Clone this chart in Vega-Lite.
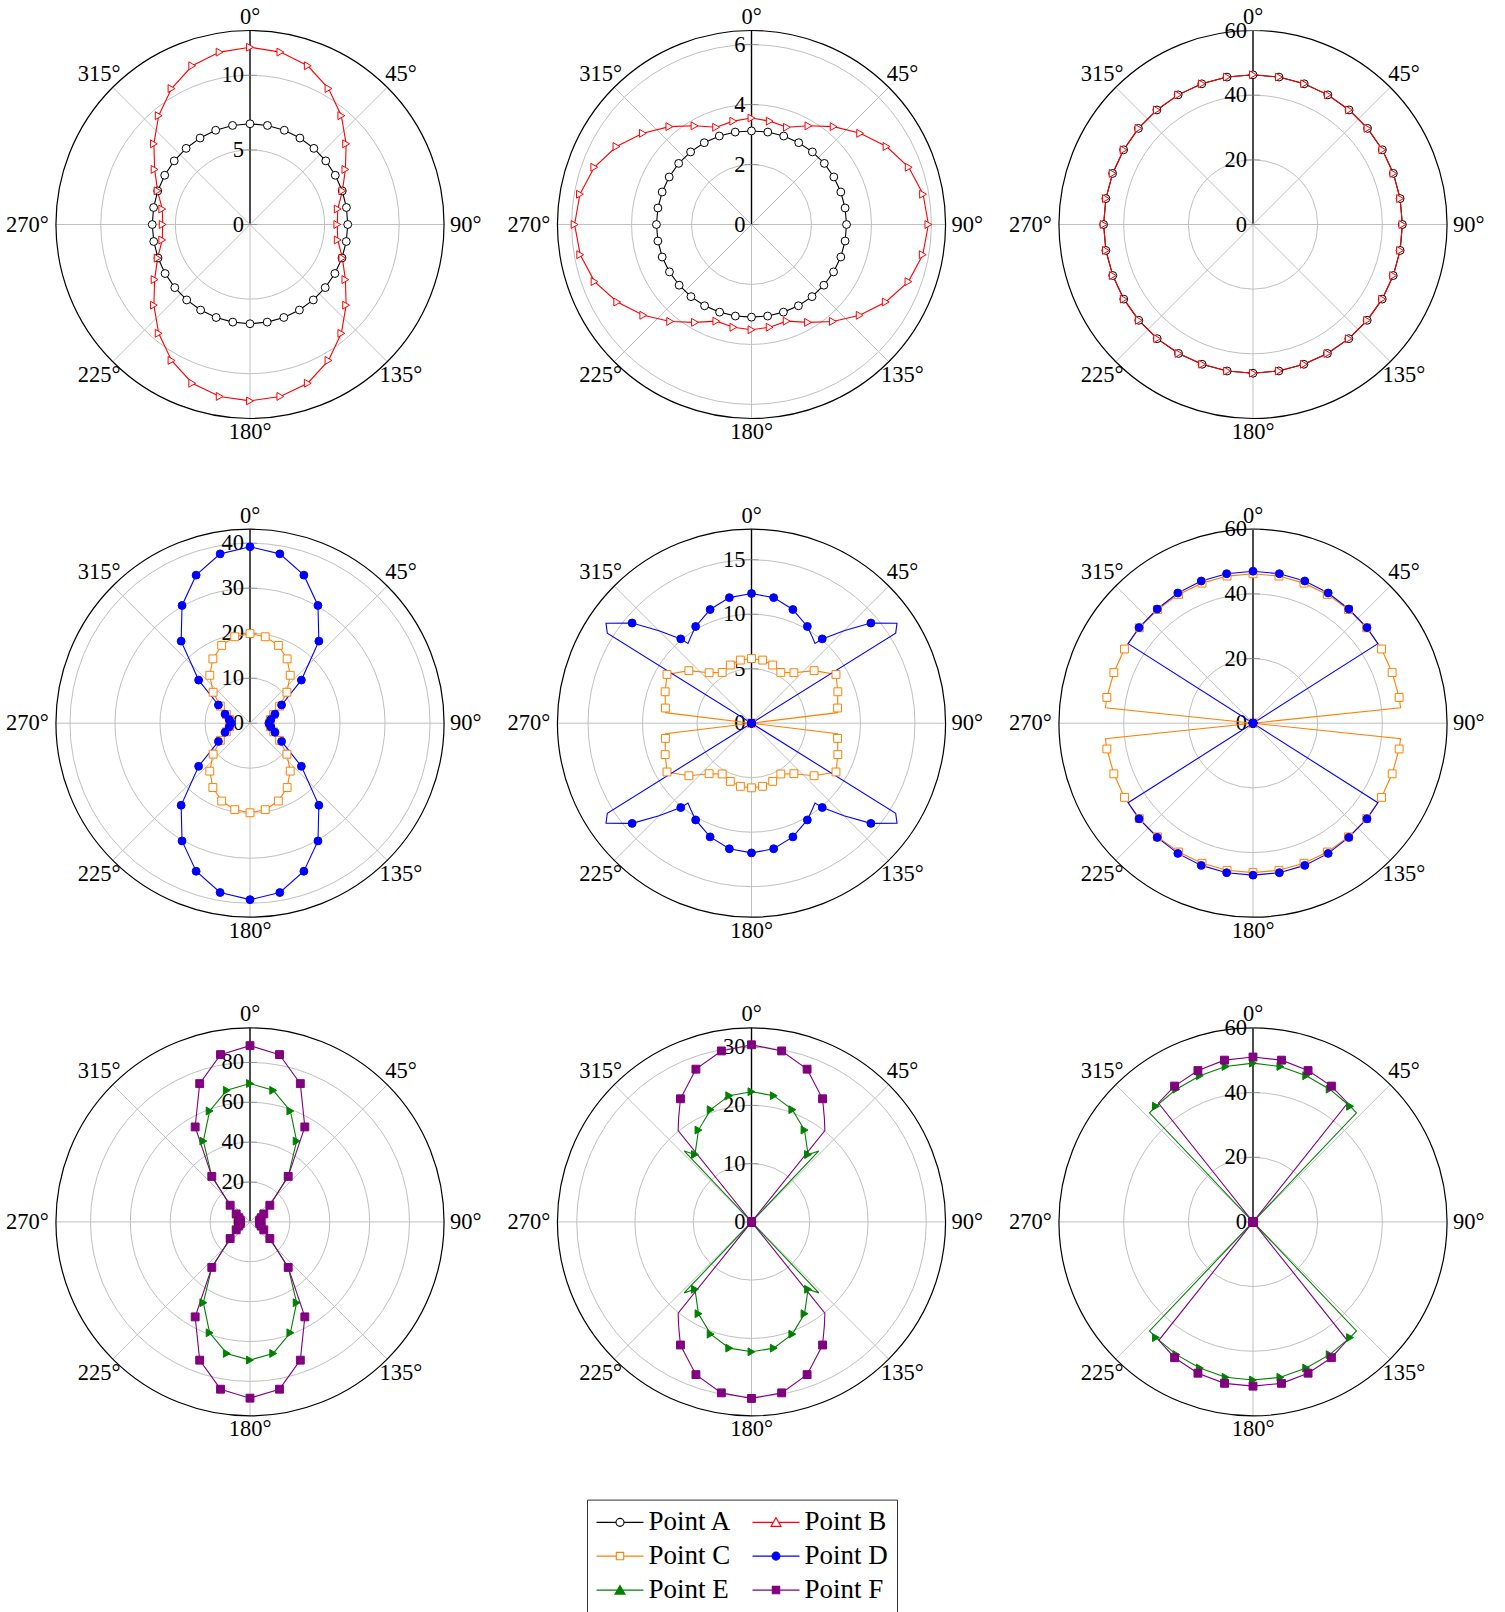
{
"$schema":"https://vega.github.io/schema/vega-lite/v6.json",
"background":"#ffffff",
"padding":{"left":6,"top":5.5,"right":0,"bottom":0},
"config":{"view":{"stroke":null}},
"bounds":"flush",
"columns":3,
"spacing":{"row":110.7,"column":113.5},
"resolve":{"scale":{"x":"independent","y":"independent","color":"independent","fill":"independent","stroke":"independent","shape":"independent","radius":"independent"}},
"datasets":{
"spokes":[{"a":0},{"a":45},{"a":90},{"a":135},{"a":180},{"a":225},{"a":270},{"a":315}],
"axes":[{"p":1,"m":13},{"p":2,"m":6.47},{"p":3,"m":60},{"p":4,"m":43.1},{"p":5,"m":17.8},{"p":6,"m":60},{"p":7,"m":97.3},{"p":8,"m":33.3},{"p":9,"m":60}],
"rings":[{"p":1,"v":0},{"p":1,"v":5},{"p":1,"v":10},{"p":2,"v":0},{"p":2,"v":2},{"p":2,"v":4},{"p":2,"v":6},{"p":3,"v":0},{"p":3,"v":20},{"p":3,"v":40},{"p":3,"v":60},{"p":4,"v":0},{"p":4,"v":10},{"p":4,"v":20},{"p":4,"v":30},{"p":4,"v":40},{"p":5,"v":0},{"p":5,"v":5},{"p":5,"v":10},{"p":5,"v":15},{"p":6,"v":0},{"p":6,"v":20},{"p":6,"v":40},{"p":6,"v":60},{"p":7,"v":0},{"p":7,"v":20},{"p":7,"v":40},{"p":7,"v":60},{"p":7,"v":80},{"p":8,"v":0},{"p":8,"v":10},{"p":8,"v":20},{"p":8,"v":30},{"p":9,"v":0},{"p":9,"v":20},{"p":9,"v":40},{"p":9,"v":60}],
"series":[
{"p":1,"s":"A","a":0,"r":6.75},{"p":1,"s":"A","a":10,"r":6.74},{"p":1,"s":"A","a":20,"r":6.72},{"p":1,"s":"A","a":30,"r":6.69},{"p":1,"s":"A","a":40,"r":6.66},{"p":1,"s":"A","a":50,"r":6.63},{"p":1,"s":"A","a":60,"r":6.6},{"p":1,"s":"A","a":70,"r":6.58},{"p":1,"s":"A","a":80,"r":6.56},{"p":1,"s":"A","a":90,"r":6.55},{"p":1,"s":"A","a":100,"r":6.55},{"p":1,"s":"A","a":110,"r":6.56},{"p":1,"s":"A","a":120,"r":6.57},{"p":1,"s":"A","a":130,"r":6.58},{"p":1,"s":"A","a":140,"r":6.6},{"p":1,"s":"A","a":150,"r":6.62},{"p":1,"s":"A","a":160,"r":6.63},{"p":1,"s":"A","a":170,"r":6.64},{"p":1,"s":"A","a":180,"r":6.65},{"p":1,"s":"A","a":190,"r":6.64},{"p":1,"s":"A","a":200,"r":6.63},{"p":1,"s":"A","a":210,"r":6.62},{"p":1,"s":"A","a":220,"r":6.6},{"p":1,"s":"A","a":230,"r":6.58},{"p":1,"s":"A","a":240,"r":6.57},{"p":1,"s":"A","a":250,"r":6.56},{"p":1,"s":"A","a":260,"r":6.55},{"p":1,"s":"A","a":270,"r":6.55},{"p":1,"s":"A","a":280,"r":6.56},{"p":1,"s":"A","a":290,"r":6.58},{"p":1,"s":"A","a":300,"r":6.6},{"p":1,"s":"A","a":310,"r":6.63},{"p":1,"s":"A","a":320,"r":6.66},{"p":1,"s":"A","a":330,"r":6.69},{"p":1,"s":"A","a":340,"r":6.72},{"p":1,"s":"A","a":350,"r":6.74},
{"p":1,"s":"B","a":0,"r":11.88},{"p":1,"s":"B","a":10,"r":11.73},{"p":1,"s":"B","a":20,"r":11.32},{"p":1,"s":"B","a":30,"r":10.52},{"p":1,"s":"B","a":40,"r":9.52},{"p":1,"s":"B","a":50,"r":8.41},{"p":1,"s":"B","a":60,"r":7.38},{"p":1,"s":"B","a":70,"r":6.59},{"p":1,"s":"B","a":80,"r":5.97},{"p":1,"s":"B","a":90,"r":5.85},{"p":1,"s":"B","a":100,"r":5.97},{"p":1,"s":"B","a":110,"r":6.59},{"p":1,"s":"B","a":120,"r":7.38},{"p":1,"s":"B","a":130,"r":8.41},{"p":1,"s":"B","a":140,"r":9.52},{"p":1,"s":"B","a":150,"r":10.52},{"p":1,"s":"B","a":160,"r":11.32},{"p":1,"s":"B","a":170,"r":11.7},{"p":1,"s":"B","a":180,"r":11.82},{"p":1,"s":"B","a":190,"r":11.7},{"p":1,"s":"B","a":200,"r":11.32},{"p":1,"s":"B","a":210,"r":10.52},{"p":1,"s":"B","a":220,"r":9.52},{"p":1,"s":"B","a":230,"r":8.41},{"p":1,"s":"B","a":240,"r":7.38},{"p":1,"s":"B","a":250,"r":6.59},{"p":1,"s":"B","a":260,"r":5.97},{"p":1,"s":"B","a":270,"r":5.85},{"p":1,"s":"B","a":280,"r":5.97},{"p":1,"s":"B","a":290,"r":6.59},{"p":1,"s":"B","a":300,"r":7.38},{"p":1,"s":"B","a":310,"r":8.41},{"p":1,"s":"B","a":320,"r":9.52},{"p":1,"s":"B","a":330,"r":10.52},{"p":1,"s":"B","a":340,"r":11.32},{"p":1,"s":"B","a":350,"r":11.73},
{"p":2,"s":"A","a":0,"r":3.12},{"p":2,"s":"A","a":10,"r":3.13},{"p":2,"s":"A","a":20,"r":3.14},{"p":2,"s":"A","a":30,"r":3.15},{"p":2,"s":"A","a":40,"r":3.16},{"p":2,"s":"A","a":50,"r":3.17},{"p":2,"s":"A","a":60,"r":3.17},{"p":2,"s":"A","a":70,"r":3.17},{"p":2,"s":"A","a":80,"r":3.17},{"p":2,"s":"A","a":90,"r":3.17},{"p":2,"s":"A","a":100,"r":3.17},{"p":2,"s":"A","a":110,"r":3.17},{"p":2,"s":"A","a":120,"r":3.16},{"p":2,"s":"A","a":130,"r":3.15},{"p":2,"s":"A","a":140,"r":3.14},{"p":2,"s":"A","a":150,"r":3.13},{"p":2,"s":"A","a":160,"r":3.11},{"p":2,"s":"A","a":170,"r":3.1},{"p":2,"s":"A","a":180,"r":3.09},{"p":2,"s":"A","a":190,"r":3.1},{"p":2,"s":"A","a":200,"r":3.11},{"p":2,"s":"A","a":210,"r":3.13},{"p":2,"s":"A","a":220,"r":3.14},{"p":2,"s":"A","a":230,"r":3.15},{"p":2,"s":"A","a":240,"r":3.16},{"p":2,"s":"A","a":250,"r":3.17},{"p":2,"s":"A","a":260,"r":3.17},{"p":2,"s":"A","a":270,"r":3.17},{"p":2,"s":"A","a":280,"r":3.17},{"p":2,"s":"A","a":290,"r":3.17},{"p":2,"s":"A","a":300,"r":3.17},{"p":2,"s":"A","a":310,"r":3.17},{"p":2,"s":"A","a":320,"r":3.16},{"p":2,"s":"A","a":330,"r":3.15},{"p":2,"s":"A","a":340,"r":3.14},{"p":2,"s":"A","a":350,"r":3.13},
{"p":2,"s":"B","a":0,"r":3.55},{"p":2,"s":"B","a":10,"r":3.5},{"p":2,"s":"B","a":20,"r":3.45},{"p":2,"s":"B","a":30,"r":3.8},{"p":2,"s":"B","a":40,"r":4.26},{"p":2,"s":"B","a":50,"r":4.73},{"p":2,"s":"B","a":60,"r":5.2},{"p":2,"s":"B","a":70,"r":5.58},{"p":2,"s":"B","a":80,"r":5.81},{"p":2,"s":"B","a":90,"r":5.9},{"p":2,"s":"B","a":100,"r":5.8},{"p":2,"s":"B","a":110,"r":5.57},{"p":2,"s":"B","a":120,"r":5.17},{"p":2,"s":"B","a":130,"r":4.71},{"p":2,"s":"B","a":140,"r":4.22},{"p":2,"s":"B","a":150,"r":3.77},{"p":2,"s":"B","a":160,"r":3.43},{"p":2,"s":"B","a":170,"r":3.48},{"p":2,"s":"B","a":180,"r":3.51},{"p":2,"s":"B","a":190,"r":3.48},{"p":2,"s":"B","a":200,"r":3.43},{"p":2,"s":"B","a":210,"r":3.77},{"p":2,"s":"B","a":220,"r":4.22},{"p":2,"s":"B","a":230,"r":4.71},{"p":2,"s":"B","a":240,"r":5.17},{"p":2,"s":"B","a":250,"r":5.57},{"p":2,"s":"B","a":260,"r":5.8},{"p":2,"s":"B","a":270,"r":5.9},{"p":2,"s":"B","a":280,"r":5.81},{"p":2,"s":"B","a":290,"r":5.58},{"p":2,"s":"B","a":300,"r":5.2},{"p":2,"s":"B","a":310,"r":4.73},{"p":2,"s":"B","a":320,"r":4.26},{"p":2,"s":"B","a":330,"r":3.8},{"p":2,"s":"B","a":340,"r":3.45},{"p":2,"s":"B","a":350,"r":3.5},
{"p":3,"s":"A","a":0,"r":46.3},{"p":3,"s":"A","a":10,"r":46.3},{"p":3,"s":"A","a":20,"r":46.3},{"p":3,"s":"A","a":30,"r":46.3},{"p":3,"s":"A","a":40,"r":46.25},{"p":3,"s":"A","a":50,"r":46.25},{"p":3,"s":"A","a":60,"r":46.2},{"p":3,"s":"A","a":70,"r":46.2},{"p":3,"s":"A","a":80,"r":46.2},{"p":3,"s":"A","a":90,"r":46.2},{"p":3,"s":"A","a":100,"r":46.2},{"p":3,"s":"A","a":110,"r":46.15},{"p":3,"s":"A","a":120,"r":46.15},{"p":3,"s":"A","a":130,"r":46.1},{"p":3,"s":"A","a":140,"r":46.1},{"p":3,"s":"A","a":150,"r":46.05},{"p":3,"s":"A","a":160,"r":46},{"p":3,"s":"A","a":170,"r":46},{"p":3,"s":"A","a":180,"r":46},{"p":3,"s":"A","a":190,"r":46},{"p":3,"s":"A","a":200,"r":46},{"p":3,"s":"A","a":210,"r":46.05},{"p":3,"s":"A","a":220,"r":46.1},{"p":3,"s":"A","a":230,"r":46.1},{"p":3,"s":"A","a":240,"r":46.15},{"p":3,"s":"A","a":250,"r":46.15},{"p":3,"s":"A","a":260,"r":46.2},{"p":3,"s":"A","a":270,"r":46.2},{"p":3,"s":"A","a":280,"r":46.2},{"p":3,"s":"A","a":290,"r":46.2},{"p":3,"s":"A","a":300,"r":46.2},{"p":3,"s":"A","a":310,"r":46.25},{"p":3,"s":"A","a":320,"r":46.25},{"p":3,"s":"A","a":330,"r":46.3},{"p":3,"s":"A","a":340,"r":46.3},{"p":3,"s":"A","a":350,"r":46.3},
{"p":3,"s":"B","a":0,"r":46.3},{"p":3,"s":"B","a":10,"r":46.3},{"p":3,"s":"B","a":20,"r":46.3},{"p":3,"s":"B","a":30,"r":46.3},{"p":3,"s":"B","a":40,"r":46.25},{"p":3,"s":"B","a":50,"r":46.25},{"p":3,"s":"B","a":60,"r":46.2},{"p":3,"s":"B","a":70,"r":46.2},{"p":3,"s":"B","a":80,"r":46.2},{"p":3,"s":"B","a":90,"r":46.2},{"p":3,"s":"B","a":100,"r":46.2},{"p":3,"s":"B","a":110,"r":46.15},{"p":3,"s":"B","a":120,"r":46.15},{"p":3,"s":"B","a":130,"r":46.1},{"p":3,"s":"B","a":140,"r":46.1},{"p":3,"s":"B","a":150,"r":46.05},{"p":3,"s":"B","a":160,"r":46},{"p":3,"s":"B","a":170,"r":46},{"p":3,"s":"B","a":180,"r":46},{"p":3,"s":"B","a":190,"r":46},{"p":3,"s":"B","a":200,"r":46},{"p":3,"s":"B","a":210,"r":46.05},{"p":3,"s":"B","a":220,"r":46.1},{"p":3,"s":"B","a":230,"r":46.1},{"p":3,"s":"B","a":240,"r":46.15},{"p":3,"s":"B","a":250,"r":46.15},{"p":3,"s":"B","a":260,"r":46.2},{"p":3,"s":"B","a":270,"r":46.2},{"p":3,"s":"B","a":280,"r":46.2},{"p":3,"s":"B","a":290,"r":46.2},{"p":3,"s":"B","a":300,"r":46.2},{"p":3,"s":"B","a":310,"r":46.25},{"p":3,"s":"B","a":320,"r":46.25},{"p":3,"s":"B","a":330,"r":46.3},{"p":3,"s":"B","a":340,"r":46.3},{"p":3,"s":"B","a":350,"r":46.3},
{"p":4,"s":"C","a":0,"r":19.9},{"p":4,"s":"C","a":10,"r":19.5},{"p":4,"s":"C","a":20,"r":18.4},{"p":4,"s":"C","a":30,"r":16.5},{"p":4,"s":"C","a":40,"r":13.9},{"p":4,"s":"C","a":50,"r":10.7},{"p":4,"s":"C","a":60,"r":7.6},{"p":4,"s":"C","a":70,"r":5.6},{"p":4,"s":"C","a":80,"r":4.6},{"p":4,"s":"C","a":90,"r":4.3},{"p":4,"s":"C","a":100,"r":4.6},{"p":4,"s":"C","a":110,"r":5.6},{"p":4,"s":"C","a":120,"r":7.6},{"p":4,"s":"C","a":130,"r":10.7},{"p":4,"s":"C","a":140,"r":13.9},{"p":4,"s":"C","a":150,"r":16.5},{"p":4,"s":"C","a":160,"r":18.4},{"p":4,"s":"C","a":170,"r":19.5},{"p":4,"s":"C","a":180,"r":19.9},{"p":4,"s":"C","a":190,"r":19.5},{"p":4,"s":"C","a":200,"r":18.4},{"p":4,"s":"C","a":210,"r":16.5},{"p":4,"s":"C","a":220,"r":13.9},{"p":4,"s":"C","a":230,"r":10.7},{"p":4,"s":"C","a":240,"r":7.6},{"p":4,"s":"C","a":250,"r":5.6},{"p":4,"s":"C","a":260,"r":4.6},{"p":4,"s":"C","a":270,"r":4.3},{"p":4,"s":"C","a":280,"r":4.6},{"p":4,"s":"C","a":290,"r":5.6},{"p":4,"s":"C","a":300,"r":7.6},{"p":4,"s":"C","a":310,"r":10.7},{"p":4,"s":"C","a":320,"r":13.9},{"p":4,"s":"C","a":330,"r":16.5},{"p":4,"s":"C","a":340,"r":18.4},{"p":4,"s":"C","a":350,"r":19.5},
{"p":4,"s":"D","a":0,"r":39.2},{"p":4,"s":"D","a":10,"r":38.2},{"p":4,"s":"D","a":20,"r":35},{"p":4,"s":"D","a":30,"r":30.2},{"p":4,"s":"D","a":40,"r":23.8},{"p":4,"s":"D","a":50,"r":14.9},{"p":4,"s":"D","a":60,"r":8.1},{"p":4,"s":"D","a":70,"r":5.9},{"p":4,"s":"D","a":80,"r":4.7},{"p":4,"s":"D","a":90,"r":4.2},{"p":4,"s":"D","a":100,"r":4.7},{"p":4,"s":"D","a":110,"r":5.9},{"p":4,"s":"D","a":120,"r":8.1},{"p":4,"s":"D","a":130,"r":14.9},{"p":4,"s":"D","a":140,"r":23.8},{"p":4,"s":"D","a":150,"r":30.2},{"p":4,"s":"D","a":160,"r":35},{"p":4,"s":"D","a":170,"r":38.2},{"p":4,"s":"D","a":180,"r":39.2},{"p":4,"s":"D","a":190,"r":38.2},{"p":4,"s":"D","a":200,"r":35},{"p":4,"s":"D","a":210,"r":30.2},{"p":4,"s":"D","a":220,"r":23.8},{"p":4,"s":"D","a":230,"r":14.9},{"p":4,"s":"D","a":240,"r":8.1},{"p":4,"s":"D","a":250,"r":5.9},{"p":4,"s":"D","a":260,"r":4.7},{"p":4,"s":"D","a":270,"r":4.2},{"p":4,"s":"D","a":280,"r":4.7},{"p":4,"s":"D","a":290,"r":5.9},{"p":4,"s":"D","a":300,"r":8.1},{"p":4,"s":"D","a":310,"r":14.9},{"p":4,"s":"D","a":320,"r":23.8},{"p":4,"s":"D","a":330,"r":30.2},{"p":4,"s":"D","a":340,"r":35},{"p":4,"s":"D","a":350,"r":38.2},
{"p":5,"s":"C","a":0,"r":5.93},{"p":5,"s":"C","a":10,"r":5.88},{"p":5,"s":"C","a":20,"r":5.68},{"p":5,"s":"C","a":30,"r":5.38},{"p":5,"s":"C","a":40,"r":6.05},{"p":5,"s":"C","a":50,"r":7.5},{"p":5,"s":"C","a":60,"r":8.95},{"p":5,"s":"C","a":70,"r":8.43},{"p":5,"s":"C","a":80,"r":8.02},{"p":5,"s":"C","a":83,"r":7.95},{"p":5,"s":"C","a":90,"r":0},{"p":5,"s":"C","a":97,"r":7.95},{"p":5,"s":"C","a":100,"r":8.02},{"p":5,"s":"C","a":110,"r":8.43},{"p":5,"s":"C","a":120,"r":8.95},{"p":5,"s":"C","a":130,"r":7.5},{"p":5,"s":"C","a":140,"r":6.05},{"p":5,"s":"C","a":150,"r":5.38},{"p":5,"s":"C","a":160,"r":5.68},{"p":5,"s":"C","a":170,"r":5.88},{"p":5,"s":"C","a":180,"r":5.93},{"p":5,"s":"C","a":190,"r":5.88},{"p":5,"s":"C","a":200,"r":5.68},{"p":5,"s":"C","a":210,"r":5.38},{"p":5,"s":"C","a":220,"r":6.05},{"p":5,"s":"C","a":230,"r":7.5},{"p":5,"s":"C","a":240,"r":8.95},{"p":5,"s":"C","a":250,"r":8.43},{"p":5,"s":"C","a":260,"r":8.02},{"p":5,"s":"C","a":263,"r":7.95},{"p":5,"s":"C","a":270,"r":0},{"p":5,"s":"C","a":277,"r":7.95},{"p":5,"s":"C","a":280,"r":8.02},{"p":5,"s":"C","a":290,"r":8.43},{"p":5,"s":"C","a":300,"r":8.95},{"p":5,"s":"C","a":310,"r":7.5},{"p":5,"s":"C","a":320,"r":6.05},{"p":5,"s":"C","a":330,"r":5.38},{"p":5,"s":"C","a":340,"r":5.68},{"p":5,"s":"C","a":350,"r":5.88},
{"p":5,"s":"D","a":0,"r":11.9},{"p":5,"s":"D","a":10,"r":11.7},{"p":5,"s":"D","a":20,"r":11.1},{"p":5,"s":"D","a":30,"r":10.25},{"p":5,"s":"D","a":35,"r":9.7},{"p":5,"s":"D","a":38.5,"r":9.36},{"p":5,"s":"D","a":40,"r":10.1},{"p":5,"s":"D","a":45,"r":12},{"p":5,"s":"D","a":50,"r":14.3},{"p":5,"s":"D","a":55.5,"r":16.2},{"p":5,"s":"D","a":58,"r":15.6},{"p":5,"s":"D","a":60,"r":0},{"p":5,"s":"D","a":70,"r":0},{"p":5,"s":"D","a":80,"r":0},{"p":5,"s":"D","a":90,"r":0},{"p":5,"s":"D","a":100,"r":0},{"p":5,"s":"D","a":110,"r":0},{"p":5,"s":"D","a":120,"r":0},{"p":5,"s":"D","a":122,"r":15.6},{"p":5,"s":"D","a":124.5,"r":16.2},{"p":5,"s":"D","a":130,"r":14.3},{"p":5,"s":"D","a":135,"r":12},{"p":5,"s":"D","a":140,"r":10.1},{"p":5,"s":"D","a":141.5,"r":9.36},{"p":5,"s":"D","a":145,"r":9.7},{"p":5,"s":"D","a":150,"r":10.25},{"p":5,"s":"D","a":160,"r":11.1},{"p":5,"s":"D","a":170,"r":11.7},{"p":5,"s":"D","a":180,"r":11.9},{"p":5,"s":"D","a":190,"r":11.7},{"p":5,"s":"D","a":200,"r":11.1},{"p":5,"s":"D","a":210,"r":10.25},{"p":5,"s":"D","a":215,"r":9.7},{"p":5,"s":"D","a":218.5,"r":9.36},{"p":5,"s":"D","a":220,"r":10.1},{"p":5,"s":"D","a":225,"r":12},{"p":5,"s":"D","a":230,"r":14.3},{"p":5,"s":"D","a":235.5,"r":16.2},{"p":5,"s":"D","a":238,"r":15.6},{"p":5,"s":"D","a":240,"r":0},{"p":5,"s":"D","a":250,"r":0},{"p":5,"s":"D","a":260,"r":0},{"p":5,"s":"D","a":270,"r":0},{"p":5,"s":"D","a":280,"r":0},{"p":5,"s":"D","a":290,"r":0},{"p":5,"s":"D","a":300,"r":0},{"p":5,"s":"D","a":302,"r":15.6},{"p":5,"s":"D","a":304.5,"r":16.2},{"p":5,"s":"D","a":310,"r":14.3},{"p":5,"s":"D","a":315,"r":12},{"p":5,"s":"D","a":320,"r":10.1},{"p":5,"s":"D","a":321.5,"r":9.36},{"p":5,"s":"D","a":325,"r":9.7},{"p":5,"s":"D","a":330,"r":10.25},{"p":5,"s":"D","a":340,"r":11.1},{"p":5,"s":"D","a":350,"r":11.7},
{"p":6,"s":"C","a":0,"r":46.2},{"p":6,"s":"C","a":10,"r":46.2},{"p":6,"s":"C","a":20,"r":46.1},{"p":6,"s":"C","a":30,"r":46},{"p":6,"s":"C","a":40,"r":45.9},{"p":6,"s":"C","a":50,"r":45.9},{"p":6,"s":"C","a":60,"r":45.9},{"p":6,"s":"C","a":70,"r":45.8},{"p":6,"s":"C","a":80,"r":45.9},{"p":6,"s":"C","a":84,"r":45.9},{"p":6,"s":"C","a":90,"r":0},{"p":6,"s":"C","a":96,"r":45.9},{"p":6,"s":"C","a":100,"r":45.9},{"p":6,"s":"C","a":110,"r":45.8},{"p":6,"s":"C","a":120,"r":45.9},{"p":6,"s":"C","a":130,"r":45.9},{"p":6,"s":"C","a":140,"r":45.9},{"p":6,"s":"C","a":150,"r":46},{"p":6,"s":"C","a":160,"r":46.1},{"p":6,"s":"C","a":170,"r":46.2},{"p":6,"s":"C","a":180,"r":46.2},{"p":6,"s":"C","a":190,"r":46.2},{"p":6,"s":"C","a":200,"r":46.1},{"p":6,"s":"C","a":210,"r":46},{"p":6,"s":"C","a":220,"r":45.9},{"p":6,"s":"C","a":230,"r":45.9},{"p":6,"s":"C","a":240,"r":45.9},{"p":6,"s":"C","a":250,"r":45.8},{"p":6,"s":"C","a":260,"r":45.9},{"p":6,"s":"C","a":264,"r":45.9},{"p":6,"s":"C","a":270,"r":0},{"p":6,"s":"C","a":276,"r":45.9},{"p":6,"s":"C","a":280,"r":45.9},{"p":6,"s":"C","a":290,"r":45.8},{"p":6,"s":"C","a":300,"r":45.9},{"p":6,"s":"C","a":310,"r":45.9},{"p":6,"s":"C","a":320,"r":45.9},{"p":6,"s":"C","a":330,"r":46},{"p":6,"s":"C","a":340,"r":46.1},{"p":6,"s":"C","a":350,"r":46.2},
{"p":6,"s":"D","a":0,"r":47},{"p":6,"s":"D","a":10,"r":46.95},{"p":6,"s":"D","a":20,"r":46.8},{"p":6,"s":"D","a":30,"r":46.5},{"p":6,"s":"D","a":40,"r":46.1},{"p":6,"s":"D","a":50,"r":46},{"p":6,"s":"D","a":57.5,"r":45.8},{"p":6,"s":"D","a":60,"r":0},{"p":6,"s":"D","a":70,"r":0},{"p":6,"s":"D","a":80,"r":0},{"p":6,"s":"D","a":90,"r":0},{"p":6,"s":"D","a":100,"r":0},{"p":6,"s":"D","a":110,"r":0},{"p":6,"s":"D","a":120,"r":0},{"p":6,"s":"D","a":122.5,"r":45.8},{"p":6,"s":"D","a":130,"r":46},{"p":6,"s":"D","a":140,"r":46.1},{"p":6,"s":"D","a":150,"r":46.5},{"p":6,"s":"D","a":160,"r":46.8},{"p":6,"s":"D","a":170,"r":46.95},{"p":6,"s":"D","a":180,"r":47},{"p":6,"s":"D","a":190,"r":46.95},{"p":6,"s":"D","a":200,"r":46.8},{"p":6,"s":"D","a":210,"r":46.5},{"p":6,"s":"D","a":220,"r":46.1},{"p":6,"s":"D","a":230,"r":46},{"p":6,"s":"D","a":237.5,"r":45.8},{"p":6,"s":"D","a":240,"r":0},{"p":6,"s":"D","a":250,"r":0},{"p":6,"s":"D","a":260,"r":0},{"p":6,"s":"D","a":270,"r":0},{"p":6,"s":"D","a":280,"r":0},{"p":6,"s":"D","a":290,"r":0},{"p":6,"s":"D","a":300,"r":0},{"p":6,"s":"D","a":302.5,"r":45.8},{"p":6,"s":"D","a":310,"r":46},{"p":6,"s":"D","a":320,"r":46.1},{"p":6,"s":"D","a":330,"r":46.5},{"p":6,"s":"D","a":340,"r":46.8},{"p":6,"s":"D","a":350,"r":46.95},
{"p":7,"s":"E","a":0,"r":69.4},{"p":7,"s":"E","a":10,"r":67},{"p":7,"s":"E","a":20,"r":59.2},{"p":7,"s":"E","a":30,"r":46.8},{"p":7,"s":"E","a":40,"r":29.8},{"p":7,"s":"E","a":50,"r":13},{"p":7,"s":"E","a":60,"r":8},{"p":7,"s":"E","a":70,"r":6},{"p":7,"s":"E","a":80,"r":5},{"p":7,"s":"E","a":90,"r":4.7},{"p":7,"s":"E","a":100,"r":5},{"p":7,"s":"E","a":110,"r":6},{"p":7,"s":"E","a":120,"r":8},{"p":7,"s":"E","a":130,"r":13},{"p":7,"s":"E","a":140,"r":29.8},{"p":7,"s":"E","a":150,"r":46.8},{"p":7,"s":"E","a":160,"r":59.2},{"p":7,"s":"E","a":170,"r":67},{"p":7,"s":"E","a":180,"r":69.3},{"p":7,"s":"E","a":190,"r":67},{"p":7,"s":"E","a":200,"r":59.2},{"p":7,"s":"E","a":210,"r":46.8},{"p":7,"s":"E","a":220,"r":29.8},{"p":7,"s":"E","a":230,"r":13},{"p":7,"s":"E","a":240,"r":8},{"p":7,"s":"E","a":250,"r":6},{"p":7,"s":"E","a":260,"r":5},{"p":7,"s":"E","a":270,"r":4.7},{"p":7,"s":"E","a":280,"r":5},{"p":7,"s":"E","a":290,"r":6},{"p":7,"s":"E","a":300,"r":8},{"p":7,"s":"E","a":310,"r":13},{"p":7,"s":"E","a":320,"r":29.8},{"p":7,"s":"E","a":330,"r":46.8},{"p":7,"s":"E","a":340,"r":59.2},{"p":7,"s":"E","a":350,"r":67},
{"p":7,"s":"F","a":0,"r":88.4},{"p":7,"s":"F","a":10,"r":85.2},{"p":7,"s":"F","a":20,"r":73.8},{"p":7,"s":"F","a":30,"r":55},{"p":7,"s":"F","a":40,"r":29.8},{"p":7,"s":"F","a":50,"r":13},{"p":7,"s":"F","a":60,"r":8},{"p":7,"s":"F","a":70,"r":6},{"p":7,"s":"F","a":80,"r":5},{"p":7,"s":"F","a":90,"r":4.7},{"p":7,"s":"F","a":100,"r":5},{"p":7,"s":"F","a":110,"r":6},{"p":7,"s":"F","a":120,"r":8},{"p":7,"s":"F","a":130,"r":13},{"p":7,"s":"F","a":140,"r":29.8},{"p":7,"s":"F","a":150,"r":55},{"p":7,"s":"F","a":160,"r":73.8},{"p":7,"s":"F","a":170,"r":85.2},{"p":7,"s":"F","a":180,"r":88.4},{"p":7,"s":"F","a":190,"r":85.2},{"p":7,"s":"F","a":200,"r":73.8},{"p":7,"s":"F","a":210,"r":55},{"p":7,"s":"F","a":220,"r":29.8},{"p":7,"s":"F","a":230,"r":13},{"p":7,"s":"F","a":240,"r":8},{"p":7,"s":"F","a":250,"r":6},{"p":7,"s":"F","a":260,"r":5},{"p":7,"s":"F","a":270,"r":4.7},{"p":7,"s":"F","a":280,"r":5},{"p":7,"s":"F","a":290,"r":6},{"p":7,"s":"F","a":300,"r":8},{"p":7,"s":"F","a":310,"r":13},{"p":7,"s":"F","a":320,"r":29.8},{"p":7,"s":"F","a":330,"r":55},{"p":7,"s":"F","a":340,"r":73.8},{"p":7,"s":"F","a":350,"r":85.2},
{"p":8,"s":"E","a":0,"r":22.35},{"p":8,"s":"E","a":10,"r":22},{"p":8,"s":"E","a":20,"r":20.5},{"p":8,"s":"E","a":30,"r":18.2},{"p":8,"s":"E","a":40,"r":15.1},{"p":8,"s":"E","a":43.5,"r":16.8},{"p":8,"s":"E","a":45,"r":0},{"p":8,"s":"E","a":50,"r":0},{"p":8,"s":"E","a":60,"r":0},{"p":8,"s":"E","a":70,"r":0},{"p":8,"s":"E","a":80,"r":0},{"p":8,"s":"E","a":90,"r":0},{"p":8,"s":"E","a":100,"r":0},{"p":8,"s":"E","a":110,"r":0},{"p":8,"s":"E","a":120,"r":0},{"p":8,"s":"E","a":130,"r":0},{"p":8,"s":"E","a":135,"r":0},{"p":8,"s":"E","a":136.5,"r":16.8},{"p":8,"s":"E","a":140,"r":15.1},{"p":8,"s":"E","a":150,"r":18.2},{"p":8,"s":"E","a":160,"r":20.5},{"p":8,"s":"E","a":170,"r":22},{"p":8,"s":"E","a":180,"r":22.3},{"p":8,"s":"E","a":190,"r":22},{"p":8,"s":"E","a":200,"r":20.5},{"p":8,"s":"E","a":210,"r":18.2},{"p":8,"s":"E","a":220,"r":15.1},{"p":8,"s":"E","a":223.5,"r":16.8},{"p":8,"s":"E","a":225,"r":0},{"p":8,"s":"E","a":230,"r":0},{"p":8,"s":"E","a":240,"r":0},{"p":8,"s":"E","a":250,"r":0},{"p":8,"s":"E","a":260,"r":0},{"p":8,"s":"E","a":270,"r":0},{"p":8,"s":"E","a":280,"r":0},{"p":8,"s":"E","a":290,"r":0},{"p":8,"s":"E","a":300,"r":0},{"p":8,"s":"E","a":310,"r":0},{"p":8,"s":"E","a":315,"r":0},{"p":8,"s":"E","a":316.5,"r":16.8},{"p":8,"s":"E","a":320,"r":15.1},{"p":8,"s":"E","a":330,"r":18.2},{"p":8,"s":"E","a":340,"r":20.5},{"p":8,"s":"E","a":350,"r":22},
{"p":8,"s":"F","a":0,"r":30.4},{"p":8,"s":"F","a":10,"r":29.8},{"p":8,"s":"F","a":20,"r":27.9},{"p":8,"s":"F","a":30,"r":24.4},{"p":8,"s":"F","a":35,"r":21.8},{"p":8,"s":"F","a":38.8,"r":20.1},{"p":8,"s":"F","a":40,"r":0},{"p":8,"s":"F","a":50,"r":0},{"p":8,"s":"F","a":60,"r":0},{"p":8,"s":"F","a":70,"r":0},{"p":8,"s":"F","a":80,"r":0},{"p":8,"s":"F","a":90,"r":0},{"p":8,"s":"F","a":100,"r":0},{"p":8,"s":"F","a":110,"r":0},{"p":8,"s":"F","a":120,"r":0},{"p":8,"s":"F","a":130,"r":0},{"p":8,"s":"F","a":140,"r":0},{"p":8,"s":"F","a":141.2,"r":20.1},{"p":8,"s":"F","a":145,"r":21.8},{"p":8,"s":"F","a":150,"r":24.4},{"p":8,"s":"F","a":160,"r":27.9},{"p":8,"s":"F","a":170,"r":29.8},{"p":8,"s":"F","a":180,"r":30.3},{"p":8,"s":"F","a":190,"r":29.8},{"p":8,"s":"F","a":200,"r":27.9},{"p":8,"s":"F","a":210,"r":24.4},{"p":8,"s":"F","a":215,"r":21.8},{"p":8,"s":"F","a":218.8,"r":20.1},{"p":8,"s":"F","a":220,"r":0},{"p":8,"s":"F","a":230,"r":0},{"p":8,"s":"F","a":240,"r":0},{"p":8,"s":"F","a":250,"r":0},{"p":8,"s":"F","a":260,"r":0},{"p":8,"s":"F","a":270,"r":0},{"p":8,"s":"F","a":280,"r":0},{"p":8,"s":"F","a":290,"r":0},{"p":8,"s":"F","a":300,"r":0},{"p":8,"s":"F","a":310,"r":0},{"p":8,"s":"F","a":320,"r":0},{"p":8,"s":"F","a":321.2,"r":20.1},{"p":8,"s":"F","a":325,"r":21.8},{"p":8,"s":"F","a":330,"r":24.4},{"p":8,"s":"F","a":340,"r":27.9},{"p":8,"s":"F","a":350,"r":29.8},
{"p":9,"s":"E","a":0,"r":49.1},{"p":9,"s":"E","a":10,"r":48.8},{"p":9,"s":"E","a":20,"r":48.1},{"p":9,"s":"E","a":30,"r":47.4},{"p":9,"s":"E","a":40,"r":46.7},{"p":9,"s":"E","a":43.5,"r":46.5},{"p":9,"s":"E","a":45,"r":0},{"p":9,"s":"E","a":50,"r":0},{"p":9,"s":"E","a":60,"r":0},{"p":9,"s":"E","a":70,"r":0},{"p":9,"s":"E","a":80,"r":0},{"p":9,"s":"E","a":90,"r":0},{"p":9,"s":"E","a":100,"r":0},{"p":9,"s":"E","a":110,"r":0},{"p":9,"s":"E","a":120,"r":0},{"p":9,"s":"E","a":130,"r":0},{"p":9,"s":"E","a":135,"r":0},{"p":9,"s":"E","a":136.5,"r":46.5},{"p":9,"s":"E","a":140,"r":46.7},{"p":9,"s":"E","a":150,"r":47.4},{"p":9,"s":"E","a":160,"r":48.1},{"p":9,"s":"E","a":170,"r":48.8},{"p":9,"s":"E","a":180,"r":48.9},{"p":9,"s":"E","a":190,"r":48.8},{"p":9,"s":"E","a":200,"r":48.1},{"p":9,"s":"E","a":210,"r":47.4},{"p":9,"s":"E","a":220,"r":46.7},{"p":9,"s":"E","a":223.5,"r":46.5},{"p":9,"s":"E","a":225,"r":0},{"p":9,"s":"E","a":230,"r":0},{"p":9,"s":"E","a":240,"r":0},{"p":9,"s":"E","a":250,"r":0},{"p":9,"s":"E","a":260,"r":0},{"p":9,"s":"E","a":270,"r":0},{"p":9,"s":"E","a":280,"r":0},{"p":9,"s":"E","a":290,"r":0},{"p":9,"s":"E","a":300,"r":0},{"p":9,"s":"E","a":310,"r":0},{"p":9,"s":"E","a":315,"r":0},{"p":9,"s":"E","a":316.5,"r":46.5},{"p":9,"s":"E","a":320,"r":46.7},{"p":9,"s":"E","a":330,"r":47.4},{"p":9,"s":"E","a":340,"r":48.1},{"p":9,"s":"E","a":350,"r":48.8},
{"p":9,"s":"F","a":0,"r":51},{"p":9,"s":"F","a":10,"r":50.8},{"p":9,"s":"F","a":20,"r":49.8},{"p":9,"s":"F","a":30,"r":48.5},{"p":9,"s":"F","a":38.5,"r":47},{"p":9,"s":"F","a":40,"r":0},{"p":9,"s":"F","a":50,"r":0},{"p":9,"s":"F","a":60,"r":0},{"p":9,"s":"F","a":70,"r":0},{"p":9,"s":"F","a":80,"r":0},{"p":9,"s":"F","a":90,"r":0},{"p":9,"s":"F","a":100,"r":0},{"p":9,"s":"F","a":110,"r":0},{"p":9,"s":"F","a":120,"r":0},{"p":9,"s":"F","a":130,"r":0},{"p":9,"s":"F","a":140,"r":0},{"p":9,"s":"F","a":141.5,"r":46.8},{"p":9,"s":"F","a":150,"r":48.5},{"p":9,"s":"F","a":160,"r":49.8},{"p":9,"s":"F","a":170,"r":50.7},{"p":9,"s":"F","a":180,"r":50.8},{"p":9,"s":"F","a":190,"r":50.7},{"p":9,"s":"F","a":200,"r":49.8},{"p":9,"s":"F","a":210,"r":48.5},{"p":9,"s":"F","a":218.5,"r":46.8},{"p":9,"s":"F","a":220,"r":0},{"p":9,"s":"F","a":230,"r":0},{"p":9,"s":"F","a":240,"r":0},{"p":9,"s":"F","a":250,"r":0},{"p":9,"s":"F","a":260,"r":0},{"p":9,"s":"F","a":270,"r":0},{"p":9,"s":"F","a":280,"r":0},{"p":9,"s":"F","a":290,"r":0},{"p":9,"s":"F","a":300,"r":0},{"p":9,"s":"F","a":310,"r":0},{"p":9,"s":"F","a":320,"r":0},{"p":9,"s":"F","a":321.5,"r":47},{"p":9,"s":"F","a":330,"r":48.5},{"p":9,"s":"F","a":340,"r":49.8},{"p":9,"s":"F","a":350,"r":50.8}
]},
"concat":[
{"width":388,"height":388,"layer":[
{"data":{"name":"rings"},"transform":[{"filter":"datum.p==1"},{"lookup":"p","from":{"data":{"name":"axes"},"key":"p","fields":["m"]}},{"calculate":"datum.v/datum.m","as":"nv"},{"filter":"datum.nv>0&&datum.nv<0.999"}],"mark":{"type":"arc","filled":false,"stroke":"#c0c0c0","strokeWidth":1,"theta":0,"theta2":6.2832},"encoding":{"radius":{"field":"nv","type":"quantitative","stack":null,"scale":{"type":"linear","domain":[0,1],"range":[0,194]}}}},
{"data":{"name":"spokes"},"transform":[{"calculate":"0","as":"o"},{"calculate":"sin(datum.a*PI/180)","as":"sx"},{"calculate":"cos(datum.a*PI/180)","as":"sy"}],"mark":{"type":"rule"},"encoding":{"x":{"field":"o","type":"quantitative","scale":{"domain":[-1,1],"nice":false,"zero":false},"axis":null},"y":{"field":"o","type":"quantitative","scale":{"domain":[-1,1],"nice":false,"zero":false},"axis":null},"x2":{"field":"sx"},"y2":{"field":"sy"},"color":{"condition":{"test":"datum.a==0","value":"#000000"},"value":"#c0c0c0"},"strokeWidth":{"condition":{"test":"datum.a==0","value":1.4},"value":1}}},
{"data":{"name":"axes"},"transform":[{"filter":"datum.p==1"}],"mark":{"type":"arc","filled":false,"stroke":"#000000","strokeWidth":1.2,"theta":0,"theta2":6.2832},"encoding":{"radius":{"datum":1,"type":"quantitative","stack":null}}},
{"data":{"name":"rings"},"transform":[{"filter":"datum.p==1"},{"lookup":"p","from":{"data":{"name":"axes"},"key":"p","fields":["m"]}},{"calculate":"datum.v/datum.m","as":"nv"},{"calculate":"0","as":"o"}],"encoding":{"x":{"field":"o","type":"quantitative","scale":{"domain":[-1,1],"nice":false,"zero":false},"axis":null},"y":{"field":"nv","type":"quantitative","scale":{"domain":[-1,1],"nice":false,"zero":false},"axis":null}},"layer":[{"mark":{"type":"tick","orient":"horizontal","size":14,"thickness":1,"color":"#808080"}},{"mark":{"type":"text","align":"right","baseline":"middle","dx":-6,"font":"Liberation Serif","fontSize":22.5,"color":"#000000"},"encoding":{"text":{"field":"v","type":"nominal"}}}]},
{"data":{"name":"spokes"},"transform":[{"calculate":"datum.a%90!=0?1.1005:datum.a==90?1.112:datum.a==270?1.147:1.0696","as":"k"},{"calculate":"datum.k*sin(datum.a*PI/180)","as":"lx"},{"calculate":"datum.k*cos(datum.a*PI/180)","as":"ly"},{"calculate":"datum.a+'°'","as":"lab"}],"mark":{"type":"text","align":"center","baseline":"middle","font":"Liberation Serif","fontSize":22.5,"color":"#000000"},"encoding":{"x":{"field":"lx","type":"quantitative","scale":{"domain":[-1,1],"nice":false,"zero":false},"axis":null},"y":{"field":"ly","type":"quantitative","scale":{"domain":[-1,1],"nice":false,"zero":false},"axis":null},"text":{"field":"lab","type":"nominal"}}},
{"data":{"name":"series"},"transform":[{"filter":"datum.p==1"},{"lookup":"p","from":{"data":{"name":"axes"},"key":"p","fields":["m"]}},{"calculate":"datum.r/datum.m*sin(datum.a*PI/180)","as":"x"},{"calculate":"datum.r/datum.m*cos(datum.a*PI/180)","as":"y"}],"encoding":{"x":{"field":"x","type":"quantitative","scale":{"domain":[-1,1],"nice":false,"zero":false},"axis":null},"y":{"field":"y","type":"quantitative","scale":{"domain":[-1,1],"nice":false,"zero":false},"axis":null}},"layer":[{"mark":{"type":"line","interpolate":"linear-closed","strokeWidth":1.1},"encoding":{"color":{"field":"s","type":"nominal","scale":{"domain":["A","B","C","D","E","F"],"range":["#000000","#ff0000","#ff8000","#0000ff","#008000","#800080"]},"legend":null},"order":{"field":"a","type":"quantitative"}}},{"transform":[{"filter":"datum.a%10==0"}],"mark":{"type":"point","filled":true,"opacity":1,"size":62,"strokeWidth":1},"encoding":{"shape":{"field":"s","type":"nominal","scale":{"domain":["A","B","C","D","E","F"],"range":["circle","triangle-right","square","circle","triangle-right","square"]},"legend":null},"fill":{"field":"s","type":"nominal","scale":{"domain":["A","B","C","D","E","F"],"range":["#ffffff","#ffffff","#ffffff","#0000ff","#008000","#800080"]},"legend":null},"stroke":{"field":"s","type":"nominal","scale":{"domain":["A","B","C","D","E","F"],"range":["#000000","#ff0000","#ff8000","#0000ff","#008000","#800080"]},"legend":null}}}]}
]},
{"width":388,"height":388,"layer":[
{"data":{"name":"rings"},"transform":[{"filter":"datum.p==2"},{"lookup":"p","from":{"data":{"name":"axes"},"key":"p","fields":["m"]}},{"calculate":"datum.v/datum.m","as":"nv"},{"filter":"datum.nv>0&&datum.nv<0.999"}],"mark":{"type":"arc","filled":false,"stroke":"#c0c0c0","strokeWidth":1,"theta":0,"theta2":6.2832},"encoding":{"radius":{"field":"nv","type":"quantitative","stack":null,"scale":{"type":"linear","domain":[0,1],"range":[0,194]}}}},
{"data":{"name":"spokes"},"transform":[{"calculate":"0","as":"o"},{"calculate":"sin(datum.a*PI/180)","as":"sx"},{"calculate":"cos(datum.a*PI/180)","as":"sy"}],"mark":{"type":"rule"},"encoding":{"x":{"field":"o","type":"quantitative","scale":{"domain":[-1,1],"nice":false,"zero":false},"axis":null},"y":{"field":"o","type":"quantitative","scale":{"domain":[-1,1],"nice":false,"zero":false},"axis":null},"x2":{"field":"sx"},"y2":{"field":"sy"},"color":{"condition":{"test":"datum.a==0","value":"#000000"},"value":"#c0c0c0"},"strokeWidth":{"condition":{"test":"datum.a==0","value":1.4},"value":1}}},
{"data":{"name":"axes"},"transform":[{"filter":"datum.p==2"}],"mark":{"type":"arc","filled":false,"stroke":"#000000","strokeWidth":1.2,"theta":0,"theta2":6.2832},"encoding":{"radius":{"datum":1,"type":"quantitative","stack":null}}},
{"data":{"name":"rings"},"transform":[{"filter":"datum.p==2"},{"lookup":"p","from":{"data":{"name":"axes"},"key":"p","fields":["m"]}},{"calculate":"datum.v/datum.m","as":"nv"},{"calculate":"0","as":"o"}],"encoding":{"x":{"field":"o","type":"quantitative","scale":{"domain":[-1,1],"nice":false,"zero":false},"axis":null},"y":{"field":"nv","type":"quantitative","scale":{"domain":[-1,1],"nice":false,"zero":false},"axis":null}},"layer":[{"mark":{"type":"tick","orient":"horizontal","size":14,"thickness":1,"color":"#808080"}},{"mark":{"type":"text","align":"right","baseline":"middle","dx":-6,"font":"Liberation Serif","fontSize":22.5,"color":"#000000"},"encoding":{"text":{"field":"v","type":"nominal"}}}]},
{"data":{"name":"spokes"},"transform":[{"calculate":"datum.a%90!=0?1.1005:datum.a==90?1.112:datum.a==270?1.147:1.0696","as":"k"},{"calculate":"datum.k*sin(datum.a*PI/180)","as":"lx"},{"calculate":"datum.k*cos(datum.a*PI/180)","as":"ly"},{"calculate":"datum.a+'°'","as":"lab"}],"mark":{"type":"text","align":"center","baseline":"middle","font":"Liberation Serif","fontSize":22.5,"color":"#000000"},"encoding":{"x":{"field":"lx","type":"quantitative","scale":{"domain":[-1,1],"nice":false,"zero":false},"axis":null},"y":{"field":"ly","type":"quantitative","scale":{"domain":[-1,1],"nice":false,"zero":false},"axis":null},"text":{"field":"lab","type":"nominal"}}},
{"data":{"name":"series"},"transform":[{"filter":"datum.p==2"},{"lookup":"p","from":{"data":{"name":"axes"},"key":"p","fields":["m"]}},{"calculate":"datum.r/datum.m*sin(datum.a*PI/180)","as":"x"},{"calculate":"datum.r/datum.m*cos(datum.a*PI/180)","as":"y"}],"encoding":{"x":{"field":"x","type":"quantitative","scale":{"domain":[-1,1],"nice":false,"zero":false},"axis":null},"y":{"field":"y","type":"quantitative","scale":{"domain":[-1,1],"nice":false,"zero":false},"axis":null}},"layer":[{"mark":{"type":"line","interpolate":"linear-closed","strokeWidth":1.1},"encoding":{"color":{"field":"s","type":"nominal","scale":{"domain":["A","B","C","D","E","F"],"range":["#000000","#ff0000","#ff8000","#0000ff","#008000","#800080"]},"legend":null},"order":{"field":"a","type":"quantitative"}}},{"transform":[{"filter":"datum.a%10==0"}],"mark":{"type":"point","filled":true,"opacity":1,"size":62,"strokeWidth":1},"encoding":{"shape":{"field":"s","type":"nominal","scale":{"domain":["A","B","C","D","E","F"],"range":["circle","triangle-right","square","circle","triangle-right","square"]},"legend":null},"fill":{"field":"s","type":"nominal","scale":{"domain":["A","B","C","D","E","F"],"range":["#ffffff","#ffffff","#ffffff","#0000ff","#008000","#800080"]},"legend":null},"stroke":{"field":"s","type":"nominal","scale":{"domain":["A","B","C","D","E","F"],"range":["#000000","#ff0000","#ff8000","#0000ff","#008000","#800080"]},"legend":null}}}]}
]},
{"width":388,"height":388,"layer":[
{"data":{"name":"rings"},"transform":[{"filter":"datum.p==3"},{"lookup":"p","from":{"data":{"name":"axes"},"key":"p","fields":["m"]}},{"calculate":"datum.v/datum.m","as":"nv"},{"filter":"datum.nv>0&&datum.nv<0.999"}],"mark":{"type":"arc","filled":false,"stroke":"#c0c0c0","strokeWidth":1,"theta":0,"theta2":6.2832},"encoding":{"radius":{"field":"nv","type":"quantitative","stack":null,"scale":{"type":"linear","domain":[0,1],"range":[0,194]}}}},
{"data":{"name":"spokes"},"transform":[{"calculate":"0","as":"o"},{"calculate":"sin(datum.a*PI/180)","as":"sx"},{"calculate":"cos(datum.a*PI/180)","as":"sy"}],"mark":{"type":"rule"},"encoding":{"x":{"field":"o","type":"quantitative","scale":{"domain":[-1,1],"nice":false,"zero":false},"axis":null},"y":{"field":"o","type":"quantitative","scale":{"domain":[-1,1],"nice":false,"zero":false},"axis":null},"x2":{"field":"sx"},"y2":{"field":"sy"},"color":{"condition":{"test":"datum.a==0","value":"#000000"},"value":"#c0c0c0"},"strokeWidth":{"condition":{"test":"datum.a==0","value":1.4},"value":1}}},
{"data":{"name":"axes"},"transform":[{"filter":"datum.p==3"}],"mark":{"type":"arc","filled":false,"stroke":"#000000","strokeWidth":1.2,"theta":0,"theta2":6.2832},"encoding":{"radius":{"datum":1,"type":"quantitative","stack":null}}},
{"data":{"name":"rings"},"transform":[{"filter":"datum.p==3"},{"lookup":"p","from":{"data":{"name":"axes"},"key":"p","fields":["m"]}},{"calculate":"datum.v/datum.m","as":"nv"},{"calculate":"0","as":"o"}],"encoding":{"x":{"field":"o","type":"quantitative","scale":{"domain":[-1,1],"nice":false,"zero":false},"axis":null},"y":{"field":"nv","type":"quantitative","scale":{"domain":[-1,1],"nice":false,"zero":false},"axis":null}},"layer":[{"mark":{"type":"tick","orient":"horizontal","size":14,"thickness":1,"color":"#808080"}},{"mark":{"type":"text","align":"right","baseline":"middle","dx":-6,"font":"Liberation Serif","fontSize":22.5,"color":"#000000"},"encoding":{"text":{"field":"v","type":"nominal"}}}]},
{"data":{"name":"spokes"},"transform":[{"calculate":"datum.a%90!=0?1.1005:datum.a==90?1.112:datum.a==270?1.147:1.0696","as":"k"},{"calculate":"datum.k*sin(datum.a*PI/180)","as":"lx"},{"calculate":"datum.k*cos(datum.a*PI/180)","as":"ly"},{"calculate":"datum.a+'°'","as":"lab"}],"mark":{"type":"text","align":"center","baseline":"middle","font":"Liberation Serif","fontSize":22.5,"color":"#000000"},"encoding":{"x":{"field":"lx","type":"quantitative","scale":{"domain":[-1,1],"nice":false,"zero":false},"axis":null},"y":{"field":"ly","type":"quantitative","scale":{"domain":[-1,1],"nice":false,"zero":false},"axis":null},"text":{"field":"lab","type":"nominal"}}},
{"data":{"name":"series"},"transform":[{"filter":"datum.p==3"},{"lookup":"p","from":{"data":{"name":"axes"},"key":"p","fields":["m"]}},{"calculate":"datum.r/datum.m*sin(datum.a*PI/180)","as":"x"},{"calculate":"datum.r/datum.m*cos(datum.a*PI/180)","as":"y"}],"encoding":{"x":{"field":"x","type":"quantitative","scale":{"domain":[-1,1],"nice":false,"zero":false},"axis":null},"y":{"field":"y","type":"quantitative","scale":{"domain":[-1,1],"nice":false,"zero":false},"axis":null}},"layer":[{"mark":{"type":"line","interpolate":"linear-closed","strokeWidth":1.1},"encoding":{"color":{"field":"s","type":"nominal","scale":{"domain":["A","B","C","D","E","F"],"range":["#000000","#ff0000","#ff8000","#0000ff","#008000","#800080"]},"legend":null},"order":{"field":"a","type":"quantitative"}}},{"transform":[{"filter":"datum.a%10==0"}],"mark":{"type":"point","filled":true,"opacity":1,"size":62,"strokeWidth":1},"encoding":{"shape":{"field":"s","type":"nominal","scale":{"domain":["A","B","C","D","E","F"],"range":["circle","triangle-right","square","circle","triangle-right","square"]},"legend":null},"fill":{"field":"s","type":"nominal","scale":{"domain":["A","B","C","D","E","F"],"range":["#ffffff","#ffffff","#ffffff","#0000ff","#008000","#800080"]},"legend":null},"stroke":{"field":"s","type":"nominal","scale":{"domain":["A","B","C","D","E","F"],"range":["#000000","#ff0000","#ff8000","#0000ff","#008000","#800080"]},"legend":null}}}]}
]},
{"width":388,"height":388,"layer":[
{"data":{"name":"rings"},"transform":[{"filter":"datum.p==4"},{"lookup":"p","from":{"data":{"name":"axes"},"key":"p","fields":["m"]}},{"calculate":"datum.v/datum.m","as":"nv"},{"filter":"datum.nv>0&&datum.nv<0.999"}],"mark":{"type":"arc","filled":false,"stroke":"#c0c0c0","strokeWidth":1,"theta":0,"theta2":6.2832},"encoding":{"radius":{"field":"nv","type":"quantitative","stack":null,"scale":{"type":"linear","domain":[0,1],"range":[0,194]}}}},
{"data":{"name":"spokes"},"transform":[{"calculate":"0","as":"o"},{"calculate":"sin(datum.a*PI/180)","as":"sx"},{"calculate":"cos(datum.a*PI/180)","as":"sy"}],"mark":{"type":"rule"},"encoding":{"x":{"field":"o","type":"quantitative","scale":{"domain":[-1,1],"nice":false,"zero":false},"axis":null},"y":{"field":"o","type":"quantitative","scale":{"domain":[-1,1],"nice":false,"zero":false},"axis":null},"x2":{"field":"sx"},"y2":{"field":"sy"},"color":{"condition":{"test":"datum.a==0","value":"#000000"},"value":"#c0c0c0"},"strokeWidth":{"condition":{"test":"datum.a==0","value":1.4},"value":1}}},
{"data":{"name":"axes"},"transform":[{"filter":"datum.p==4"}],"mark":{"type":"arc","filled":false,"stroke":"#000000","strokeWidth":1.2,"theta":0,"theta2":6.2832},"encoding":{"radius":{"datum":1,"type":"quantitative","stack":null}}},
{"data":{"name":"rings"},"transform":[{"filter":"datum.p==4"},{"lookup":"p","from":{"data":{"name":"axes"},"key":"p","fields":["m"]}},{"calculate":"datum.v/datum.m","as":"nv"},{"calculate":"0","as":"o"}],"encoding":{"x":{"field":"o","type":"quantitative","scale":{"domain":[-1,1],"nice":false,"zero":false},"axis":null},"y":{"field":"nv","type":"quantitative","scale":{"domain":[-1,1],"nice":false,"zero":false},"axis":null}},"layer":[{"mark":{"type":"tick","orient":"horizontal","size":14,"thickness":1,"color":"#808080"}},{"mark":{"type":"text","align":"right","baseline":"middle","dx":-6,"font":"Liberation Serif","fontSize":22.5,"color":"#000000"},"encoding":{"text":{"field":"v","type":"nominal"}}}]},
{"data":{"name":"spokes"},"transform":[{"calculate":"datum.a%90!=0?1.1005:datum.a==90?1.112:datum.a==270?1.147:1.0696","as":"k"},{"calculate":"datum.k*sin(datum.a*PI/180)","as":"lx"},{"calculate":"datum.k*cos(datum.a*PI/180)","as":"ly"},{"calculate":"datum.a+'°'","as":"lab"}],"mark":{"type":"text","align":"center","baseline":"middle","font":"Liberation Serif","fontSize":22.5,"color":"#000000"},"encoding":{"x":{"field":"lx","type":"quantitative","scale":{"domain":[-1,1],"nice":false,"zero":false},"axis":null},"y":{"field":"ly","type":"quantitative","scale":{"domain":[-1,1],"nice":false,"zero":false},"axis":null},"text":{"field":"lab","type":"nominal"}}},
{"data":{"name":"series"},"transform":[{"filter":"datum.p==4"},{"lookup":"p","from":{"data":{"name":"axes"},"key":"p","fields":["m"]}},{"calculate":"datum.r/datum.m*sin(datum.a*PI/180)","as":"x"},{"calculate":"datum.r/datum.m*cos(datum.a*PI/180)","as":"y"}],"encoding":{"x":{"field":"x","type":"quantitative","scale":{"domain":[-1,1],"nice":false,"zero":false},"axis":null},"y":{"field":"y","type":"quantitative","scale":{"domain":[-1,1],"nice":false,"zero":false},"axis":null}},"layer":[{"mark":{"type":"line","interpolate":"linear-closed","strokeWidth":1.1},"encoding":{"color":{"field":"s","type":"nominal","scale":{"domain":["A","B","C","D","E","F"],"range":["#000000","#ff0000","#ff8000","#0000ff","#008000","#800080"]},"legend":null},"order":{"field":"a","type":"quantitative"}}},{"transform":[{"filter":"datum.a%10==0"}],"mark":{"type":"point","filled":true,"opacity":1,"size":62,"strokeWidth":1},"encoding":{"shape":{"field":"s","type":"nominal","scale":{"domain":["A","B","C","D","E","F"],"range":["circle","triangle-right","square","circle","triangle-right","square"]},"legend":null},"fill":{"field":"s","type":"nominal","scale":{"domain":["A","B","C","D","E","F"],"range":["#ffffff","#ffffff","#ffffff","#0000ff","#008000","#800080"]},"legend":null},"stroke":{"field":"s","type":"nominal","scale":{"domain":["A","B","C","D","E","F"],"range":["#000000","#ff0000","#ff8000","#0000ff","#008000","#800080"]},"legend":null}}}]}
]},
{"width":388,"height":388,"layer":[
{"data":{"name":"rings"},"transform":[{"filter":"datum.p==5"},{"lookup":"p","from":{"data":{"name":"axes"},"key":"p","fields":["m"]}},{"calculate":"datum.v/datum.m","as":"nv"},{"filter":"datum.nv>0&&datum.nv<0.999"}],"mark":{"type":"arc","filled":false,"stroke":"#c0c0c0","strokeWidth":1,"theta":0,"theta2":6.2832},"encoding":{"radius":{"field":"nv","type":"quantitative","stack":null,"scale":{"type":"linear","domain":[0,1],"range":[0,194]}}}},
{"data":{"name":"spokes"},"transform":[{"calculate":"0","as":"o"},{"calculate":"sin(datum.a*PI/180)","as":"sx"},{"calculate":"cos(datum.a*PI/180)","as":"sy"}],"mark":{"type":"rule"},"encoding":{"x":{"field":"o","type":"quantitative","scale":{"domain":[-1,1],"nice":false,"zero":false},"axis":null},"y":{"field":"o","type":"quantitative","scale":{"domain":[-1,1],"nice":false,"zero":false},"axis":null},"x2":{"field":"sx"},"y2":{"field":"sy"},"color":{"condition":{"test":"datum.a==0","value":"#000000"},"value":"#c0c0c0"},"strokeWidth":{"condition":{"test":"datum.a==0","value":1.4},"value":1}}},
{"data":{"name":"axes"},"transform":[{"filter":"datum.p==5"}],"mark":{"type":"arc","filled":false,"stroke":"#000000","strokeWidth":1.2,"theta":0,"theta2":6.2832},"encoding":{"radius":{"datum":1,"type":"quantitative","stack":null}}},
{"data":{"name":"rings"},"transform":[{"filter":"datum.p==5"},{"lookup":"p","from":{"data":{"name":"axes"},"key":"p","fields":["m"]}},{"calculate":"datum.v/datum.m","as":"nv"},{"calculate":"0","as":"o"}],"encoding":{"x":{"field":"o","type":"quantitative","scale":{"domain":[-1,1],"nice":false,"zero":false},"axis":null},"y":{"field":"nv","type":"quantitative","scale":{"domain":[-1,1],"nice":false,"zero":false},"axis":null}},"layer":[{"mark":{"type":"tick","orient":"horizontal","size":14,"thickness":1,"color":"#808080"}},{"mark":{"type":"text","align":"right","baseline":"middle","dx":-6,"font":"Liberation Serif","fontSize":22.5,"color":"#000000"},"encoding":{"text":{"field":"v","type":"nominal"}}}]},
{"data":{"name":"spokes"},"transform":[{"calculate":"datum.a%90!=0?1.1005:datum.a==90?1.112:datum.a==270?1.147:1.0696","as":"k"},{"calculate":"datum.k*sin(datum.a*PI/180)","as":"lx"},{"calculate":"datum.k*cos(datum.a*PI/180)","as":"ly"},{"calculate":"datum.a+'°'","as":"lab"}],"mark":{"type":"text","align":"center","baseline":"middle","font":"Liberation Serif","fontSize":22.5,"color":"#000000"},"encoding":{"x":{"field":"lx","type":"quantitative","scale":{"domain":[-1,1],"nice":false,"zero":false},"axis":null},"y":{"field":"ly","type":"quantitative","scale":{"domain":[-1,1],"nice":false,"zero":false},"axis":null},"text":{"field":"lab","type":"nominal"}}},
{"data":{"name":"series"},"transform":[{"filter":"datum.p==5"},{"lookup":"p","from":{"data":{"name":"axes"},"key":"p","fields":["m"]}},{"calculate":"datum.r/datum.m*sin(datum.a*PI/180)","as":"x"},{"calculate":"datum.r/datum.m*cos(datum.a*PI/180)","as":"y"}],"encoding":{"x":{"field":"x","type":"quantitative","scale":{"domain":[-1,1],"nice":false,"zero":false},"axis":null},"y":{"field":"y","type":"quantitative","scale":{"domain":[-1,1],"nice":false,"zero":false},"axis":null}},"layer":[{"mark":{"type":"line","interpolate":"linear-closed","strokeWidth":1.1},"encoding":{"color":{"field":"s","type":"nominal","scale":{"domain":["A","B","C","D","E","F"],"range":["#000000","#ff0000","#ff8000","#0000ff","#008000","#800080"]},"legend":null},"order":{"field":"a","type":"quantitative"}}},{"transform":[{"filter":"datum.a%10==0"}],"mark":{"type":"point","filled":true,"opacity":1,"size":62,"strokeWidth":1},"encoding":{"shape":{"field":"s","type":"nominal","scale":{"domain":["A","B","C","D","E","F"],"range":["circle","triangle-right","square","circle","triangle-right","square"]},"legend":null},"fill":{"field":"s","type":"nominal","scale":{"domain":["A","B","C","D","E","F"],"range":["#ffffff","#ffffff","#ffffff","#0000ff","#008000","#800080"]},"legend":null},"stroke":{"field":"s","type":"nominal","scale":{"domain":["A","B","C","D","E","F"],"range":["#000000","#ff0000","#ff8000","#0000ff","#008000","#800080"]},"legend":null}}}]}
]},
{"width":388,"height":388,"layer":[
{"data":{"name":"rings"},"transform":[{"filter":"datum.p==6"},{"lookup":"p","from":{"data":{"name":"axes"},"key":"p","fields":["m"]}},{"calculate":"datum.v/datum.m","as":"nv"},{"filter":"datum.nv>0&&datum.nv<0.999"}],"mark":{"type":"arc","filled":false,"stroke":"#c0c0c0","strokeWidth":1,"theta":0,"theta2":6.2832},"encoding":{"radius":{"field":"nv","type":"quantitative","stack":null,"scale":{"type":"linear","domain":[0,1],"range":[0,194]}}}},
{"data":{"name":"spokes"},"transform":[{"calculate":"0","as":"o"},{"calculate":"sin(datum.a*PI/180)","as":"sx"},{"calculate":"cos(datum.a*PI/180)","as":"sy"}],"mark":{"type":"rule"},"encoding":{"x":{"field":"o","type":"quantitative","scale":{"domain":[-1,1],"nice":false,"zero":false},"axis":null},"y":{"field":"o","type":"quantitative","scale":{"domain":[-1,1],"nice":false,"zero":false},"axis":null},"x2":{"field":"sx"},"y2":{"field":"sy"},"color":{"condition":{"test":"datum.a==0","value":"#000000"},"value":"#c0c0c0"},"strokeWidth":{"condition":{"test":"datum.a==0","value":1.4},"value":1}}},
{"data":{"name":"axes"},"transform":[{"filter":"datum.p==6"}],"mark":{"type":"arc","filled":false,"stroke":"#000000","strokeWidth":1.2,"theta":0,"theta2":6.2832},"encoding":{"radius":{"datum":1,"type":"quantitative","stack":null}}},
{"data":{"name":"rings"},"transform":[{"filter":"datum.p==6"},{"lookup":"p","from":{"data":{"name":"axes"},"key":"p","fields":["m"]}},{"calculate":"datum.v/datum.m","as":"nv"},{"calculate":"0","as":"o"}],"encoding":{"x":{"field":"o","type":"quantitative","scale":{"domain":[-1,1],"nice":false,"zero":false},"axis":null},"y":{"field":"nv","type":"quantitative","scale":{"domain":[-1,1],"nice":false,"zero":false},"axis":null}},"layer":[{"mark":{"type":"tick","orient":"horizontal","size":14,"thickness":1,"color":"#808080"}},{"mark":{"type":"text","align":"right","baseline":"middle","dx":-6,"font":"Liberation Serif","fontSize":22.5,"color":"#000000"},"encoding":{"text":{"field":"v","type":"nominal"}}}]},
{"data":{"name":"spokes"},"transform":[{"calculate":"datum.a%90!=0?1.1005:datum.a==90?1.112:datum.a==270?1.147:1.0696","as":"k"},{"calculate":"datum.k*sin(datum.a*PI/180)","as":"lx"},{"calculate":"datum.k*cos(datum.a*PI/180)","as":"ly"},{"calculate":"datum.a+'°'","as":"lab"}],"mark":{"type":"text","align":"center","baseline":"middle","font":"Liberation Serif","fontSize":22.5,"color":"#000000"},"encoding":{"x":{"field":"lx","type":"quantitative","scale":{"domain":[-1,1],"nice":false,"zero":false},"axis":null},"y":{"field":"ly","type":"quantitative","scale":{"domain":[-1,1],"nice":false,"zero":false},"axis":null},"text":{"field":"lab","type":"nominal"}}},
{"data":{"name":"series"},"transform":[{"filter":"datum.p==6"},{"lookup":"p","from":{"data":{"name":"axes"},"key":"p","fields":["m"]}},{"calculate":"datum.r/datum.m*sin(datum.a*PI/180)","as":"x"},{"calculate":"datum.r/datum.m*cos(datum.a*PI/180)","as":"y"}],"encoding":{"x":{"field":"x","type":"quantitative","scale":{"domain":[-1,1],"nice":false,"zero":false},"axis":null},"y":{"field":"y","type":"quantitative","scale":{"domain":[-1,1],"nice":false,"zero":false},"axis":null}},"layer":[{"mark":{"type":"line","interpolate":"linear-closed","strokeWidth":1.1},"encoding":{"color":{"field":"s","type":"nominal","scale":{"domain":["A","B","C","D","E","F"],"range":["#000000","#ff0000","#ff8000","#0000ff","#008000","#800080"]},"legend":null},"order":{"field":"a","type":"quantitative"}}},{"transform":[{"filter":"datum.a%10==0"}],"mark":{"type":"point","filled":true,"opacity":1,"size":62,"strokeWidth":1},"encoding":{"shape":{"field":"s","type":"nominal","scale":{"domain":["A","B","C","D","E","F"],"range":["circle","triangle-right","square","circle","triangle-right","square"]},"legend":null},"fill":{"field":"s","type":"nominal","scale":{"domain":["A","B","C","D","E","F"],"range":["#ffffff","#ffffff","#ffffff","#0000ff","#008000","#800080"]},"legend":null},"stroke":{"field":"s","type":"nominal","scale":{"domain":["A","B","C","D","E","F"],"range":["#000000","#ff0000","#ff8000","#0000ff","#008000","#800080"]},"legend":null}}}]}
]},
{"width":388,"height":388,"layer":[
{"data":{"name":"rings"},"transform":[{"filter":"datum.p==7"},{"lookup":"p","from":{"data":{"name":"axes"},"key":"p","fields":["m"]}},{"calculate":"datum.v/datum.m","as":"nv"},{"filter":"datum.nv>0&&datum.nv<0.999"}],"mark":{"type":"arc","filled":false,"stroke":"#c0c0c0","strokeWidth":1,"theta":0,"theta2":6.2832},"encoding":{"radius":{"field":"nv","type":"quantitative","stack":null,"scale":{"type":"linear","domain":[0,1],"range":[0,194]}}}},
{"data":{"name":"spokes"},"transform":[{"calculate":"0","as":"o"},{"calculate":"sin(datum.a*PI/180)","as":"sx"},{"calculate":"cos(datum.a*PI/180)","as":"sy"}],"mark":{"type":"rule"},"encoding":{"x":{"field":"o","type":"quantitative","scale":{"domain":[-1,1],"nice":false,"zero":false},"axis":null},"y":{"field":"o","type":"quantitative","scale":{"domain":[-1,1],"nice":false,"zero":false},"axis":null},"x2":{"field":"sx"},"y2":{"field":"sy"},"color":{"condition":{"test":"datum.a==0","value":"#000000"},"value":"#c0c0c0"},"strokeWidth":{"condition":{"test":"datum.a==0","value":1.4},"value":1}}},
{"data":{"name":"axes"},"transform":[{"filter":"datum.p==7"}],"mark":{"type":"arc","filled":false,"stroke":"#000000","strokeWidth":1.2,"theta":0,"theta2":6.2832},"encoding":{"radius":{"datum":1,"type":"quantitative","stack":null}}},
{"data":{"name":"rings"},"transform":[{"filter":"datum.p==7"},{"lookup":"p","from":{"data":{"name":"axes"},"key":"p","fields":["m"]}},{"calculate":"datum.v/datum.m","as":"nv"},{"calculate":"0","as":"o"}],"encoding":{"x":{"field":"o","type":"quantitative","scale":{"domain":[-1,1],"nice":false,"zero":false},"axis":null},"y":{"field":"nv","type":"quantitative","scale":{"domain":[-1,1],"nice":false,"zero":false},"axis":null}},"layer":[{"mark":{"type":"tick","orient":"horizontal","size":14,"thickness":1,"color":"#808080"}},{"mark":{"type":"text","align":"right","baseline":"middle","dx":-6,"font":"Liberation Serif","fontSize":22.5,"color":"#000000"},"encoding":{"text":{"field":"v","type":"nominal"}}}]},
{"data":{"name":"spokes"},"transform":[{"calculate":"datum.a%90!=0?1.1005:datum.a==90?1.112:datum.a==270?1.147:1.0696","as":"k"},{"calculate":"datum.k*sin(datum.a*PI/180)","as":"lx"},{"calculate":"datum.k*cos(datum.a*PI/180)","as":"ly"},{"calculate":"datum.a+'°'","as":"lab"}],"mark":{"type":"text","align":"center","baseline":"middle","font":"Liberation Serif","fontSize":22.5,"color":"#000000"},"encoding":{"x":{"field":"lx","type":"quantitative","scale":{"domain":[-1,1],"nice":false,"zero":false},"axis":null},"y":{"field":"ly","type":"quantitative","scale":{"domain":[-1,1],"nice":false,"zero":false},"axis":null},"text":{"field":"lab","type":"nominal"}}},
{"data":{"name":"series"},"transform":[{"filter":"datum.p==7"},{"lookup":"p","from":{"data":{"name":"axes"},"key":"p","fields":["m"]}},{"calculate":"datum.r/datum.m*sin(datum.a*PI/180)","as":"x"},{"calculate":"datum.r/datum.m*cos(datum.a*PI/180)","as":"y"}],"encoding":{"x":{"field":"x","type":"quantitative","scale":{"domain":[-1,1],"nice":false,"zero":false},"axis":null},"y":{"field":"y","type":"quantitative","scale":{"domain":[-1,1],"nice":false,"zero":false},"axis":null}},"layer":[{"mark":{"type":"line","interpolate":"linear-closed","strokeWidth":1.1},"encoding":{"color":{"field":"s","type":"nominal","scale":{"domain":["A","B","C","D","E","F"],"range":["#000000","#ff0000","#ff8000","#0000ff","#008000","#800080"]},"legend":null},"order":{"field":"a","type":"quantitative"}}},{"transform":[{"filter":"datum.a%10==0"}],"mark":{"type":"point","filled":true,"opacity":1,"size":62,"strokeWidth":1},"encoding":{"shape":{"field":"s","type":"nominal","scale":{"domain":["A","B","C","D","E","F"],"range":["circle","triangle-right","square","circle","triangle-right","square"]},"legend":null},"fill":{"field":"s","type":"nominal","scale":{"domain":["A","B","C","D","E","F"],"range":["#ffffff","#ffffff","#ffffff","#0000ff","#008000","#800080"]},"legend":null},"stroke":{"field":"s","type":"nominal","scale":{"domain":["A","B","C","D","E","F"],"range":["#000000","#ff0000","#ff8000","#0000ff","#008000","#800080"]},"legend":null}}}]}
]},
{"width":388,"height":388,"layer":[
{"data":{"name":"rings"},"transform":[{"filter":"datum.p==8"},{"lookup":"p","from":{"data":{"name":"axes"},"key":"p","fields":["m"]}},{"calculate":"datum.v/datum.m","as":"nv"},{"filter":"datum.nv>0&&datum.nv<0.999"}],"mark":{"type":"arc","filled":false,"stroke":"#c0c0c0","strokeWidth":1,"theta":0,"theta2":6.2832},"encoding":{"radius":{"field":"nv","type":"quantitative","stack":null,"scale":{"type":"linear","domain":[0,1],"range":[0,194]}}}},
{"data":{"name":"spokes"},"transform":[{"calculate":"0","as":"o"},{"calculate":"sin(datum.a*PI/180)","as":"sx"},{"calculate":"cos(datum.a*PI/180)","as":"sy"}],"mark":{"type":"rule"},"encoding":{"x":{"field":"o","type":"quantitative","scale":{"domain":[-1,1],"nice":false,"zero":false},"axis":null},"y":{"field":"o","type":"quantitative","scale":{"domain":[-1,1],"nice":false,"zero":false},"axis":null},"x2":{"field":"sx"},"y2":{"field":"sy"},"color":{"condition":{"test":"datum.a==0","value":"#000000"},"value":"#c0c0c0"},"strokeWidth":{"condition":{"test":"datum.a==0","value":1.4},"value":1}}},
{"data":{"name":"axes"},"transform":[{"filter":"datum.p==8"}],"mark":{"type":"arc","filled":false,"stroke":"#000000","strokeWidth":1.2,"theta":0,"theta2":6.2832},"encoding":{"radius":{"datum":1,"type":"quantitative","stack":null}}},
{"data":{"name":"rings"},"transform":[{"filter":"datum.p==8"},{"lookup":"p","from":{"data":{"name":"axes"},"key":"p","fields":["m"]}},{"calculate":"datum.v/datum.m","as":"nv"},{"calculate":"0","as":"o"}],"encoding":{"x":{"field":"o","type":"quantitative","scale":{"domain":[-1,1],"nice":false,"zero":false},"axis":null},"y":{"field":"nv","type":"quantitative","scale":{"domain":[-1,1],"nice":false,"zero":false},"axis":null}},"layer":[{"mark":{"type":"tick","orient":"horizontal","size":14,"thickness":1,"color":"#808080"}},{"mark":{"type":"text","align":"right","baseline":"middle","dx":-6,"font":"Liberation Serif","fontSize":22.5,"color":"#000000"},"encoding":{"text":{"field":"v","type":"nominal"}}}]},
{"data":{"name":"spokes"},"transform":[{"calculate":"datum.a%90!=0?1.1005:datum.a==90?1.112:datum.a==270?1.147:1.0696","as":"k"},{"calculate":"datum.k*sin(datum.a*PI/180)","as":"lx"},{"calculate":"datum.k*cos(datum.a*PI/180)","as":"ly"},{"calculate":"datum.a+'°'","as":"lab"}],"mark":{"type":"text","align":"center","baseline":"middle","font":"Liberation Serif","fontSize":22.5,"color":"#000000"},"encoding":{"x":{"field":"lx","type":"quantitative","scale":{"domain":[-1,1],"nice":false,"zero":false},"axis":null},"y":{"field":"ly","type":"quantitative","scale":{"domain":[-1,1],"nice":false,"zero":false},"axis":null},"text":{"field":"lab","type":"nominal"}}},
{"data":{"name":"series"},"transform":[{"filter":"datum.p==8"},{"lookup":"p","from":{"data":{"name":"axes"},"key":"p","fields":["m"]}},{"calculate":"datum.r/datum.m*sin(datum.a*PI/180)","as":"x"},{"calculate":"datum.r/datum.m*cos(datum.a*PI/180)","as":"y"}],"encoding":{"x":{"field":"x","type":"quantitative","scale":{"domain":[-1,1],"nice":false,"zero":false},"axis":null},"y":{"field":"y","type":"quantitative","scale":{"domain":[-1,1],"nice":false,"zero":false},"axis":null}},"layer":[{"mark":{"type":"line","interpolate":"linear-closed","strokeWidth":1.1},"encoding":{"color":{"field":"s","type":"nominal","scale":{"domain":["A","B","C","D","E","F"],"range":["#000000","#ff0000","#ff8000","#0000ff","#008000","#800080"]},"legend":null},"order":{"field":"a","type":"quantitative"}}},{"transform":[{"filter":"datum.a%10==0"}],"mark":{"type":"point","filled":true,"opacity":1,"size":62,"strokeWidth":1},"encoding":{"shape":{"field":"s","type":"nominal","scale":{"domain":["A","B","C","D","E","F"],"range":["circle","triangle-right","square","circle","triangle-right","square"]},"legend":null},"fill":{"field":"s","type":"nominal","scale":{"domain":["A","B","C","D","E","F"],"range":["#ffffff","#ffffff","#ffffff","#0000ff","#008000","#800080"]},"legend":null},"stroke":{"field":"s","type":"nominal","scale":{"domain":["A","B","C","D","E","F"],"range":["#000000","#ff0000","#ff8000","#0000ff","#008000","#800080"]},"legend":null}}}]}
]},
{"width":388,"height":388,"layer":[
{"data":{"name":"rings"},"transform":[{"filter":"datum.p==9"},{"lookup":"p","from":{"data":{"name":"axes"},"key":"p","fields":["m"]}},{"calculate":"datum.v/datum.m","as":"nv"},{"filter":"datum.nv>0&&datum.nv<0.999"}],"mark":{"type":"arc","filled":false,"stroke":"#c0c0c0","strokeWidth":1,"theta":0,"theta2":6.2832},"encoding":{"radius":{"field":"nv","type":"quantitative","stack":null,"scale":{"type":"linear","domain":[0,1],"range":[0,194]}}}},
{"data":{"name":"spokes"},"transform":[{"calculate":"0","as":"o"},{"calculate":"sin(datum.a*PI/180)","as":"sx"},{"calculate":"cos(datum.a*PI/180)","as":"sy"}],"mark":{"type":"rule"},"encoding":{"x":{"field":"o","type":"quantitative","scale":{"domain":[-1,1],"nice":false,"zero":false},"axis":null},"y":{"field":"o","type":"quantitative","scale":{"domain":[-1,1],"nice":false,"zero":false},"axis":null},"x2":{"field":"sx"},"y2":{"field":"sy"},"color":{"condition":{"test":"datum.a==0","value":"#000000"},"value":"#c0c0c0"},"strokeWidth":{"condition":{"test":"datum.a==0","value":1.4},"value":1}}},
{"data":{"name":"axes"},"transform":[{"filter":"datum.p==9"}],"mark":{"type":"arc","filled":false,"stroke":"#000000","strokeWidth":1.2,"theta":0,"theta2":6.2832},"encoding":{"radius":{"datum":1,"type":"quantitative","stack":null}}},
{"data":{"name":"rings"},"transform":[{"filter":"datum.p==9"},{"lookup":"p","from":{"data":{"name":"axes"},"key":"p","fields":["m"]}},{"calculate":"datum.v/datum.m","as":"nv"},{"calculate":"0","as":"o"}],"encoding":{"x":{"field":"o","type":"quantitative","scale":{"domain":[-1,1],"nice":false,"zero":false},"axis":null},"y":{"field":"nv","type":"quantitative","scale":{"domain":[-1,1],"nice":false,"zero":false},"axis":null}},"layer":[{"mark":{"type":"tick","orient":"horizontal","size":14,"thickness":1,"color":"#808080"}},{"mark":{"type":"text","align":"right","baseline":"middle","dx":-6,"font":"Liberation Serif","fontSize":22.5,"color":"#000000"},"encoding":{"text":{"field":"v","type":"nominal"}}}]},
{"data":{"name":"spokes"},"transform":[{"calculate":"datum.a%90!=0?1.1005:datum.a==90?1.112:datum.a==270?1.147:1.0696","as":"k"},{"calculate":"datum.k*sin(datum.a*PI/180)","as":"lx"},{"calculate":"datum.k*cos(datum.a*PI/180)","as":"ly"},{"calculate":"datum.a+'°'","as":"lab"}],"mark":{"type":"text","align":"center","baseline":"middle","font":"Liberation Serif","fontSize":22.5,"color":"#000000"},"encoding":{"x":{"field":"lx","type":"quantitative","scale":{"domain":[-1,1],"nice":false,"zero":false},"axis":null},"y":{"field":"ly","type":"quantitative","scale":{"domain":[-1,1],"nice":false,"zero":false},"axis":null},"text":{"field":"lab","type":"nominal"}}},
{"data":{"name":"series"},"transform":[{"filter":"datum.p==9"},{"lookup":"p","from":{"data":{"name":"axes"},"key":"p","fields":["m"]}},{"calculate":"datum.r/datum.m*sin(datum.a*PI/180)","as":"x"},{"calculate":"datum.r/datum.m*cos(datum.a*PI/180)","as":"y"}],"encoding":{"x":{"field":"x","type":"quantitative","scale":{"domain":[-1,1],"nice":false,"zero":false},"axis":null},"y":{"field":"y","type":"quantitative","scale":{"domain":[-1,1],"nice":false,"zero":false},"axis":null}},"layer":[{"mark":{"type":"line","interpolate":"linear-closed","strokeWidth":1.1},"encoding":{"color":{"field":"s","type":"nominal","scale":{"domain":["A","B","C","D","E","F"],"range":["#000000","#ff0000","#ff8000","#0000ff","#008000","#800080"]},"legend":null},"order":{"field":"a","type":"quantitative"}}},{"transform":[{"filter":"datum.a%10==0"}],"mark":{"type":"point","filled":true,"opacity":1,"size":62,"strokeWidth":1},"encoding":{"shape":{"field":"s","type":"nominal","scale":{"domain":["A","B","C","D","E","F"],"range":["circle","triangle-right","square","circle","triangle-right","square"]},"legend":null},"fill":{"field":"s","type":"nominal","scale":{"domain":["A","B","C","D","E","F"],"range":["#ffffff","#ffffff","#ffffff","#0000ff","#008000","#800080"]},"legend":null},"stroke":{"field":"s","type":"nominal","scale":{"domain":["A","B","C","D","E","F"],"range":["#000000","#ff0000","#ff8000","#0000ff","#008000","#800080"]},"legend":null}}}]}
]},
{"width":388,"height":10,
"data":{"name":"series"},
"transform":[{"aggregate":[{"op":"count","as":"n"}],"groupby":["s"]}],
"mark":{"type":"point","filled":true,"opacity":0},
"encoding":{
"shape":{"field":"s","type":"nominal","scale":{"domain":["A","B","C","D","E","F"],"range":["M-1.895,0L-0.323,0M0.323,0L1.895,0M0.323,0A0.323,0.323,0,1,1,-0.323,0A0.323,0.323,0,1,1,0.323,0Z","M-1.895,0L-0.218,0M0.218,0L1.895,0M0,-0.379L0.403,0.323L-0.403,0.323Z","M-1.895,0L-0.298,0M0.298,0L1.895,0M-0.298,-0.298L0.298,-0.298L0.298,0.298L-0.298,0.298Z","M-1.895,0L-0.323,0M0.323,0L1.895,0M0.323,0A0.323,0.323,0,1,1,-0.323,0A0.323,0.323,0,1,1,0.323,0Z","M-1.895,0L-0.218,0M0.218,0L1.895,0M0,-0.379L0.403,0.323L-0.403,0.323Z","M-1.895,0L-0.298,0M0.298,0L1.895,0M-0.298,-0.298L0.298,-0.298L0.298,0.298L-0.298,0.298Z"]},"legend":{"title":null,"orient":"none","legendX":531,"legendY":-27,"direction":"horizontal","columns":2,"symbolSize":615,"symbolOffset":10.5,"symbolStrokeWidth":1.1,"symbolOpacity":1,"labelFont":"Liberation Serif","labelFontSize":27,"labelColor":"#000000","labelOffset":15,"rowPadding":6,"columnPadding":18,"padding":9,"strokeColor":"#333333","labelExpr":"'Point ' + datum.label"}},
"fill":{"field":"s","type":"nominal","scale":{"domain":["A","B","C","D","E","F"],"range":["#ffffff","#ffffff","#ffffff","#0000ff","#008000","#800080"]},"legend":{"title":null,"orient":"none","legendX":531,"legendY":-27,"direction":"horizontal","columns":2,"symbolSize":615,"symbolOffset":10.5,"symbolStrokeWidth":1.1,"symbolOpacity":1,"labelFont":"Liberation Serif","labelFontSize":27,"labelColor":"#000000","labelOffset":15,"rowPadding":6,"columnPadding":18,"padding":9,"strokeColor":"#333333","labelExpr":"'Point ' + datum.label"}},
"stroke":{"field":"s","type":"nominal","scale":{"domain":["A","B","C","D","E","F"],"range":["#000000","#ff0000","#ff8000","#0000ff","#008000","#800080"]},"legend":{"title":null,"orient":"none","legendX":531,"legendY":-27,"direction":"horizontal","columns":2,"symbolSize":615,"symbolOffset":10.5,"symbolStrokeWidth":1.1,"symbolOpacity":1,"labelFont":"Liberation Serif","labelFontSize":27,"labelColor":"#000000","labelOffset":15,"rowPadding":6,"columnPadding":18,"padding":9,"strokeColor":"#333333","labelExpr":"'Point ' + datum.label"}}
}}
]
}
